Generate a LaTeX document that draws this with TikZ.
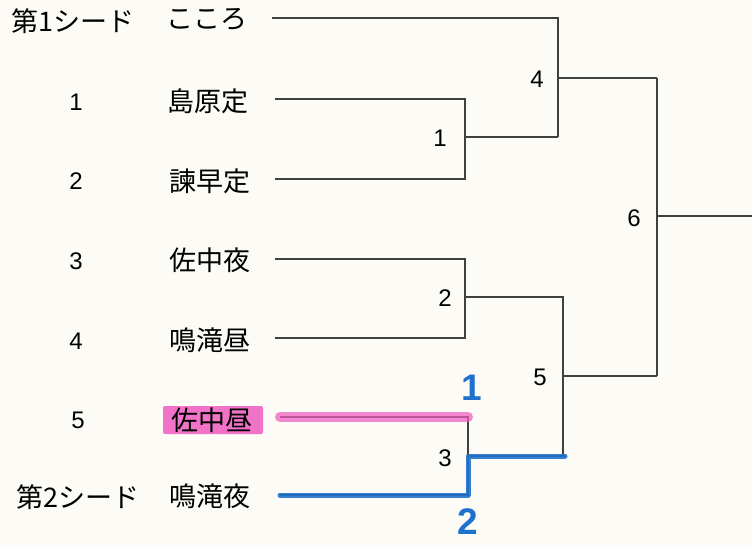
\documentclass[tikz,border=0pt]{standalone}
\usepackage{fontspec}
\newfontfamily\jp{Noto Sans CJK JP}
\newfontfamily\dig{Liberation Sans}
\definecolor{paper}{HTML}{FCFBF6}
\definecolor{ink}{HTML}{404040}
\definecolor{pen}{HTML}{1F72CC}
\definecolor{marker}{HTML}{F05CC0}
\tikzset{
  team/.style={inner sep=0pt, font=\jp\fontsize{27}{30}\selectfont},
  seed/.style={inner sep=0pt, font=\jp\fontsize{27}{30}\selectfont},
  num/.style={inner sep=0pt, font=\dig\fontsize{24}{28}\selectfont},
  br/.style={draw=ink, line width=1.6pt},
  bluepath/.style={draw=pen, line width=5pt, opacity=0.9, line cap=round, line join=round},
  pinkpath/.style={draw=marker, line width=10pt, opacity=0.72, line cap=round},
  hand/.style={inner sep=0pt, text=pen, font=\dig\bfseries\fontsize{37}{40}\selectfont}
}
\begin{document}
\begin{tikzpicture}[x=1pt,y=-1pt]
\fill[paper] (0,0) rectangle (752,545);
\useasboundingbox (0,0) rectangle (752,545);

% left labels
\node[seed] (s1) at (73,21) {第1シード};
\node[num] (n1) at (76,102) {1};
\node[num] (n2) at (76,181) {2};
\node[num] (n3) at (76,261) {3};
\node[num] (n4) at (76,341) {4};
\node[num] (n5) at (78,420) {5};
\node[seed] (s2) at (78,497) {第2シード};

% teams
\node[team] (t0) at (207,19) {こころ};
\node[team] (t1) at (208,101) {島原定};
\node[team] (t2) at (210,181) {諫早定};
\node[team] (t3) at (210,260) {佐中夜};
\node[team] (t4) at (210,340) {鳴滝昼};
\node[fill=marker, fill opacity=0.85, rounded corners=2pt, minimum width=100pt, minimum height=28pt] (hl) at (213,420) {};
\node[team] (t5) at (212,420) {佐中昼};
\node[team] (t6) at (210,496) {鳴滝夜};

% leaf ends
\coordinate (a0) at (272,18);
\coordinate (a1) at (275,99);
\coordinate (a2) at (275,179);
\coordinate (a3) at (275,259);
\coordinate (a4) at (275,338);
\coordinate (a5) at (280,417);
\coordinate (a6) at (280,495);

% match junctions
\coordinate (m1) at (465,137);  \coordinate (m1o) at (558,137);
\coordinate (m2) at (465,297);  \coordinate (m2o) at (562,297);
\coordinate (m3) at (468,456);  \coordinate (m3o) at (565,456);
\coordinate (m3t) at (468,417);
\coordinate (m4) at (558,78);   \coordinate (m4o) at (657,78);
\coordinate (m5) at (563,376);  \coordinate (m5o) at (657,376);
\coordinate (m6) at (657,216);  \coordinate (win) at (752,216);

% bracket lines
\draw[br] (a1) -| (m1) |- (a2);
\draw[br] (m1) -- (m1o);
\draw[br] (a3) -| (m2) |- (a4);
\draw[br] (m2) -- (m2o);
\draw[br] (a5) -| (m3) |- (a6);
\draw[br] (m3) -- (m3o);
\draw[br] (a0) -| (m4) |- (m1o);
\draw[br] (m4) -- (m4o);
\draw[br] (m2o) -| (m5) |- (m3o);
\draw[br] (m5) -- (m5o);
\draw[br] (m4o) -- (m6) -- (m5o);
\draw[br] (m6) -- (win);

% marker overlays
\draw[pinkpath] (a5) -- (m3t);
\draw[bluepath] (a6) -| (m3) -- (m3o);

% match numbers
\node[num] (l1) at (440,138) {1};
\node[num] (l2) at (445,298) {2};
\node[num] (l3) at (445,458) {3};
\node[num] (l4) at (537,79) {4};
\node[num] (l5) at (540,377) {5};
\node[num] (l6) at (634,218) {6};

% handwritten results
\node[hand] (h1) at (472,388) {1};
\node[hand] (h2) at (468,522) {2};
\end{tikzpicture}
\end{document}
